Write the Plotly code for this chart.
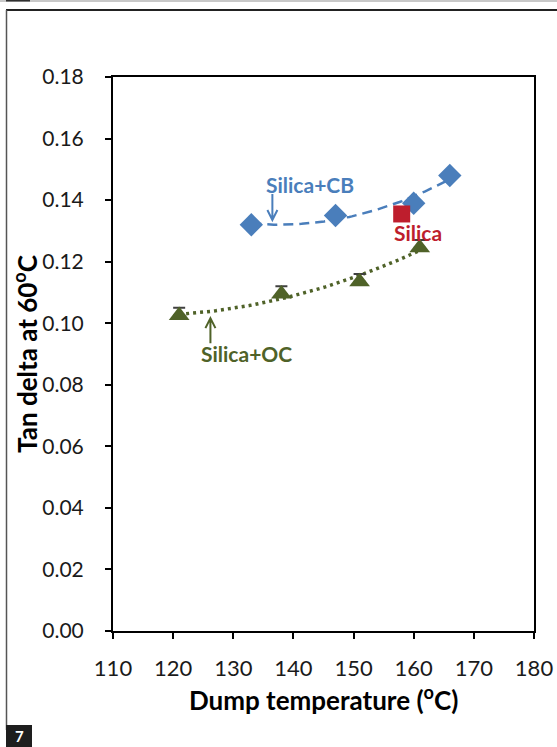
import numpy as np
import plotly.graph_objects as go

# ---- data ----
cb_temp = [133, 147, 160, 166]
cb_tan = [0.132, 0.135, 0.139, 0.148]

oc_temp = [121, 138, 151, 161]
oc_tan = [0.1025, 0.1095, 0.1135, 0.1245]
oc_err = [0.0025, 0.0025, 0.0025, 0.0025]
oc_err_minus = [0, 0, 0, 0]

silica_temp = [158]
silica_tan = [0.1355]

x_ticks = [110, 120, 130, 140, 150, 160, 170, 180]
y_ticks = [0.00, 0.02, 0.04, 0.06, 0.08, 0.10, 0.12, 0.14, 0.16, 0.18]

x_title = "Dump temperature (<sup>o</sup>C)"
y_title = "Tan delta at 60<sup>o</sup>C"

BLUE = "#4A7EBB"
RED = "#BE1E2D"
GREEN = "#4F6228"
FONT = "Lato, Carlito, Calibri, sans-serif"

W, H = 557, 747
L, R, T, B = 113, 534, 77, 631  # plot area pixels


def px(xp):
    return (xp - L) / (R - L)


def py(yp):
    return (B - yp) / (B - T)


def trend(xs, ys, deg=2):
    c = np.polyfit(xs, ys, deg)
    xx = np.linspace(min(xs), max(xs), 80)
    return xx, np.polyval(c, xx)


fig = go.Figure()

tx, ty = trend(cb_temp, cb_tan)
fig.add_trace(go.Scatter(x=tx, y=ty, mode="lines",
                         line=dict(color=BLUE, width=2.5, dash="10px,6px"),
                         hoverinfo="skip", showlegend=False))
tx, ty = trend(oc_temp, oc_tan)
fig.add_trace(go.Scatter(x=tx, y=ty, mode="lines",
                         line=dict(color=GREEN, width=3.5, dash="3px,4px"),
                         hoverinfo="skip", showlegend=False))

fig.add_trace(go.Scatter(x=cb_temp, y=cb_tan, mode="markers", name="Silica+CB",
                         marker=dict(symbol="diamond", size=18, color=BLUE),
                         showlegend=False))
fig.add_trace(go.Scatter(x=oc_temp, y=oc_tan, mode="markers", name="Silica+OC",
                         error_y=dict(type="data", symmetric=False, array=oc_err,
                                      arrayminus=oc_err_minus, color="#404040",
                                      thickness=2, width=6),
                         marker=dict(symbol="triangle-up", size=18, color=GREEN),
                         showlegend=False))
fig.add_trace(go.Scatter(x=silica_temp, y=silica_tan, mode="markers", name="Silica",
                         marker=dict(symbol="square", size=17, color=RED),
                         showlegend=False))

shapes = []
# page decoration (frame of the figure panel)
shapes.append(dict(type="line", xref="paper", yref="paper",
                   x0=px(0), x1=px(W), y0=py(1), y1=py(1),
                   line=dict(color="#C8C8C8", width=2)))
shapes.append(dict(type="line", xref="paper", yref="paper",
                   x0=px(6), x1=px(30), y0=py(0.5), y1=py(0.5),
                   line=dict(color="#303030", width=2)))
shapes.append(dict(type="line", xref="paper", yref="paper",
                   x0=px(6), x1=px(W), y0=py(10), y1=py(10),
                   line=dict(color="#222222", width=2)))
shapes.append(dict(type="line", xref="paper", yref="paper",
                   x0=px(6.5), x1=px(6.5), y0=py(10), y1=py(730),
                   line=dict(color="#555555", width=1.5)))
shapes.append(dict(type="rect", xref="paper", yref="paper",
                   x0=px(6), x1=px(32), y0=py(725), y1=py(747),
                   fillcolor="#1E1E1E", line=dict(width=0)))

# arrows
shapes.append(dict(type="path", xref="x", yref="y", xsizemode="pixel", ysizemode="pixel",
                   xanchor=136.5, yanchor=0.1329,
                   path="M 0,2 L 0,28 M -5,12 L 0,2 L 5,12",
                   line=dict(color=BLUE, width=2)))
shapes.append(dict(type="path", xref="x", yref="y", xsizemode="pixel", ysizemode="pixel",
                   xanchor=126.2, yanchor=0.1023,
                   path="M 0,-2 L 0,-27 M -5,-12 L 0,-2 L 5,-12",
                   line=dict(color=GREEN, width=2)))


def label(text, xp, yp, size, color, angle=0):
    return dict(text=text, x=px(xp), y=py(yp), xref="paper", yref="paper",
                xanchor="center", yanchor="middle", showarrow=False, textangle=angle,
                font=dict(family=FONT, size=size, color=color))


annotations = [
    label("<b>Silica+CB</b>", 310, 184, 21, BLUE),
    label("<b>Silica</b>", 418, 232, 21, RED),
    label("<b>Silica+OC</b>", 246, 353, 21, GREEN),
    label("<b>7</b>", 19, 736, 15, "white"),
    label("<b>" + x_title + "</b>", 323, 698, 26, "black"),
    label("<b>" + y_title + "</b>", 25, 354, 26, "black", angle=-90),
]

fig.update_layout(
    width=W, height=H, autosize=False,
    margin=dict(l=L, r=W - R, t=T, b=H - B, autoexpand=False),
    paper_bgcolor="white", plot_bgcolor="white",
    font=dict(family=FONT, color="#1a1a1a"),
    shapes=shapes, annotations=annotations,
    xaxis=dict(range=[110, 180], tickvals=x_ticks, ticktext=[str(v) for v in x_ticks],
               showgrid=False, zeroline=False, showline=True, mirror=True,
               automargin=False,
               linecolor="black", linewidth=2, ticks="outside", ticklen=6,
               tickwidth=2, tickcolor="black", ticklabelstandoff=11,
               tickfont=dict(family=FONT, size=22, color="#1a1a1a")),
    yaxis=dict(range=[0, 0.18], tickvals=y_ticks, ticktext=[f"{v:.2f}" for v in y_ticks],
               showgrid=False, zeroline=False, showline=True, mirror=True,
               automargin=False,
               linecolor="black", linewidth=2, ticks="outside", ticklen=6,
               tickwidth=2, tickcolor="black", ticklabelstandoff=17,
               tickfont=dict(family=FONT, size=21, color="#1a1a1a")),
)

fig.write_html("out.html", config={"displayModeBar": False},
               post_script="document.body.style.margin='0';")
